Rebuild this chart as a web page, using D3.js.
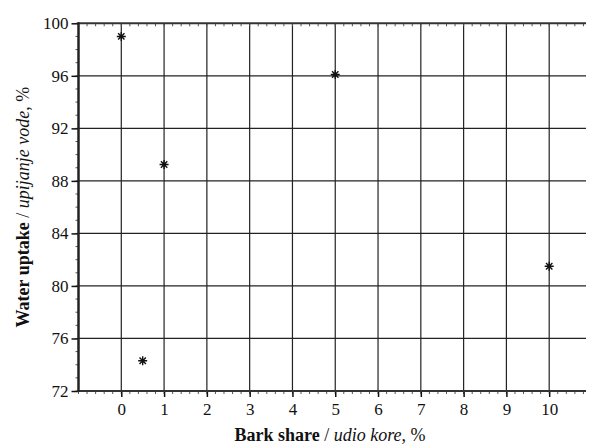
<!DOCTYPE html>
<html>
<head>
<meta charset="utf-8">
<script src="https://cdn.jsdelivr.net/npm/d3@7"></script>
<style>
  body { margin: 0; background: #fff; }
  text { font-family: "Liberation Serif", "Times New Roman", serif; }
</style>
</head>
<body>
<div class="chart"></div>
<script>
// bark share (%) and water uptake (%)
const barkShare = [0, 0.5, 1, 5, 10];
const waterUptake = [99.0, 74.3, 89.25, 96.1, 81.5];
const xTicks = [0, 1, 2, 3, 4, 5, 6, 7, 8, 9, 10];
const yTicks = [72, 76, 80, 84, 88, 92, 96, 100];

const width = 590, height = 447;
const mLeft = 78.5, mRight = 586, mTop = 23.3, mBottom = 391;

const svg = d3.select('.chart').append('svg')
  .attr('width', width).attr('height', height);

const x = d3.scaleLinear().domain([-1, 10.86]).range([mLeft, mRight]);
const y = d3.scaleLinear().domain([72, 100]).range([mBottom, mTop]);

// grid
svg.append('g').selectAll('line')
  .data(xTicks)
  .join('line')
  .attr('x1', d => x(d)).attr('x2', d => x(d))
  .attr('y1', mTop).attr('y2', mBottom)
  .attr('stroke', '#222').attr('stroke-width', 1.2);

svg.append('g').selectAll('line')
  .data(yTicks.filter(d => d > 72 && d < 100))
  .join('line')
  .attr('x1', mLeft).attr('x2', mRight)
  .attr('y1', d => y(d)).attr('y2', d => y(d))
  .attr('stroke', '#222').attr('stroke-width', 1.2);

// minor ticks
const xMinor = d3.range(-1, 10.81, 0.2);
svg.append('g').selectAll('line')
  .data(xMinor)
  .join('line')
  .attr('x1', d => x(d)).attr('x2', d => x(d))
  .attr('y1', mTop).attr('y2', mTop + 3)
  .attr('stroke', '#555').attr('stroke-width', 1);
svg.append('g').selectAll('line')
  .data(xMinor)
  .join('line')
  .attr('x1', d => x(d)).attr('x2', d => x(d))
  .attr('y1', mBottom).attr('y2', mBottom + 3)
  .attr('stroke', '#555').attr('stroke-width', 1);
svg.append('g').selectAll('line')
  .data(d3.range(72, 100.5, 1))
  .join('line')
  .attr('x1', mLeft - 3).attr('x2', mLeft)
  .attr('y1', d => y(d)).attr('y2', d => y(d))
  .attr('stroke', '#555').attr('stroke-width', 1);

// axes
const xAxis = d3.axisBottom(x).tickValues(xTicks).tickSize(6).tickPadding(6);
const yAxis = d3.axisLeft(y).tickValues(yTicks).tickSize(7).tickPadding(3);

const gx = svg.append('g')
  .attr('transform', 'translate(0,' + mBottom + ')')
  .call(xAxis);
const gy = svg.append('g')
  .attr('transform', 'translate(' + mLeft + ',0)')
  .call(yAxis);
[gx, gy].forEach(g => {
  g.select('.domain').remove();
  g.selectAll('line').attr('stroke', '#111').attr('stroke-width', 1.5);
  g.selectAll('text')
    .attr('fill', '#111')
    .style('font-family', '"Liberation Serif", serif')
    .style('font-size', '17px');
});

svg.append('line')
  .attr('x1', mLeft - 1).attr('x2', mRight)
  .attr('y1', mTop).attr('y2', mTop)
  .attr('stroke', '#333').attr('stroke-width', 2);
svg.append('line')
  .attr('x1', mLeft - 1).attr('x2', mRight)
  .attr('y1', mBottom).attr('y2', mBottom)
  .attr('stroke', '#333').attr('stroke-width', 2);
svg.append('line')
  .attr('x1', mLeft).attr('x2', mLeft)
  .attr('y1', mTop - 1).attr('y2', mBottom + 1)
  .attr('stroke', '#222').attr('stroke-width', 2.5);

// asterisk markers
const r = 4.5;
const star = d3.path();
[0, 45, 90, 135].forEach(a => {
  const t = a * Math.PI / 180;
  star.moveTo(-r * Math.cos(t), -r * Math.sin(t));
  star.lineTo(r * Math.cos(t), r * Math.sin(t));
});
svg.append('g').selectAll('path')
  .data(barkShare.map((d, i) => ({ x: d, y: waterUptake[i] })))
  .join('path')
  .attr('d', star.toString())
  .attr('transform', d => 'translate(' + x(d.x) + ',' + y(d.y) + ')')
  .attr('stroke', '#111')
  .attr('stroke-width', 1.4)
  .attr('fill', 'none');

// axis titles
const xt = svg.append('text')
  .attr('x', 330).attr('y', 441)
  .attr('text-anchor', 'middle')
  .style('font-size', '18px').attr('fill', '#111');
xt.append('tspan').attr('font-weight', 'bold').text('Bark share');
xt.append('tspan').text(' / ');
xt.append('tspan').attr('font-style', 'italic').text('udio kore');
xt.append('tspan').text(', %');

const yt = svg.append('text')
  .attr('transform', 'translate(29,' + ((mTop + mBottom) / 2) + ') rotate(-90)')
  .attr('text-anchor', 'middle')
  .style('font-size', '18px').attr('fill', '#111');
yt.append('tspan').attr('font-weight', 'bold').text('Water uptake');
yt.append('tspan').text(' / ');
yt.append('tspan').attr('font-style', 'italic').text('upijanje vode');
yt.append('tspan').text(', %');
</script>
</body>
</html>
